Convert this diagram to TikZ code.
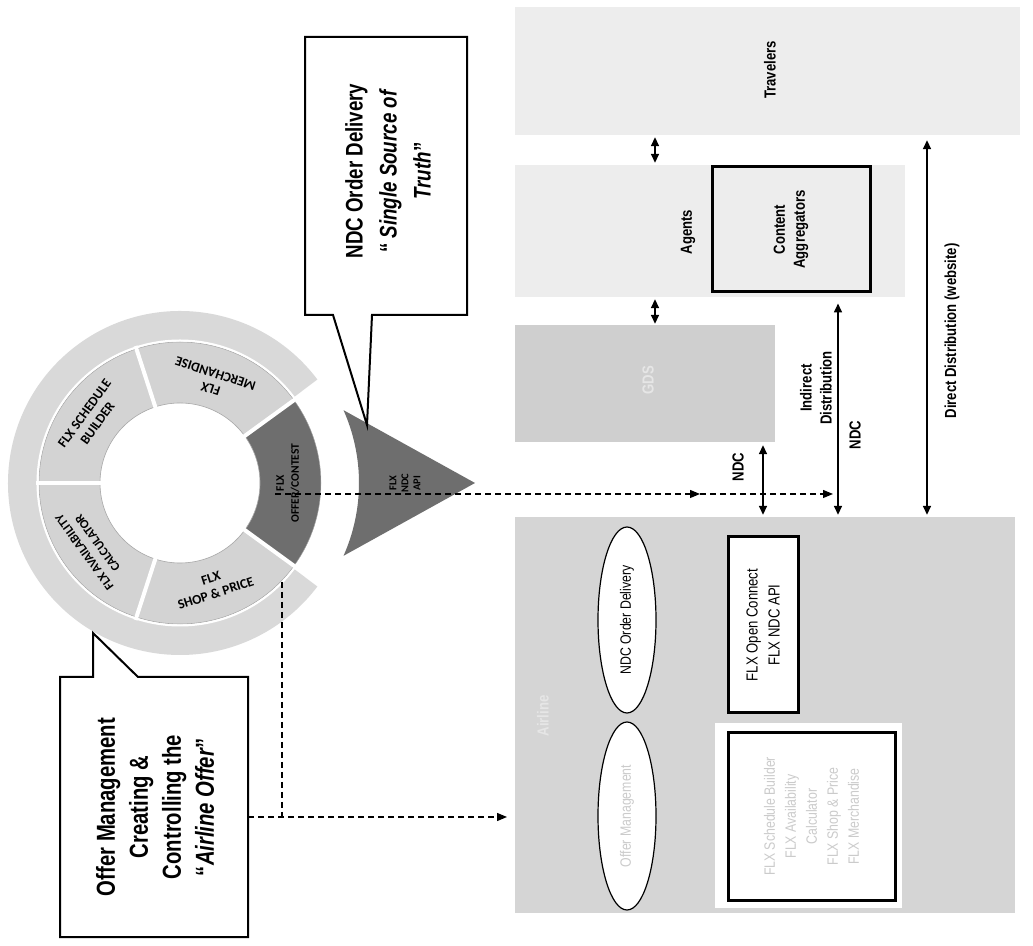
\documentclass[tikz,border=0pt]{standalone}
\usepackage{fontspec}
\setmainfont{Liberation Sans}
\newfontfamily\narrowfont[FakeStretch=0.82]{Liberation Sans}
\newfontfamily\calloutfont[FakeStretch=0.78]{Liberation Sans}
\newfontfamily\wheelfont{Carlito}
\usetikzlibrary{arrows.meta,shapes.geometric,calc}

\definecolor{ringgrey}{HTML}{D9D9D9}
\definecolor{seggrey}{HTML}{D3D3D3}
\definecolor{segline}{HTML}{A9A9A9}
\definecolor{darkseg}{HTML}{6E6E6E}
\definecolor{panellight}{HTML}{EDEDED}
\definecolor{paneldark}{HTML}{CFCFCF}
\definecolor{panelmid}{HTML}{D5D5D5}
\definecolor{fainttext}{HTML}{CBCBCB}
\definecolor{ghosttext}{HTML}{E6E6E6}

\begin{document}
\begin{tikzpicture}[x=1pt,y=1pt,
  panel/.style={draw=none, rectangle, inner sep=0pt},
  thickbox/.style={draw=black, line width=3pt, rectangle, inner sep=0pt},
  lbl/.style={font=\narrowfont\bfseries\fontsize{16}{20}\selectfont, rotate=90, align=center, inner sep=0pt},
  plain/.style={font=\narrowfont\fontsize{16}{22}\selectfont, rotate=90, align=center, inner sep=0pt},
  callout/.style={draw=black, line width=2pt, fill=white, line join=miter},
  calltext/.style={font=\calloutfont\bfseries\fontsize{26}{33}\selectfont, rotate=90, align=center, inner sep=0pt},
  segtext/.style={font=\wheelfont\bfseries\fontsize{13.5}{16}\selectfont, align=center, inner sep=0pt},
  dbl/.style={line width=1.6pt, {Triangle[length=9pt,width=8pt]}-{Triangle[length=9pt,width=8pt]}},
  flow/.style={line width=1.2pt, dash pattern=on 6pt off 4pt, -{Triangle[length=10pt,width=8pt]}},
  flowline/.style={line width=1.2pt, dash pattern=on 6pt off 4pt},
]
\useasboundingbox (0,0) rectangle (1033,945);
\fill[white] (0,0) rectangle (1033,945);

% ---------- channel panels ----------
\node[panel, fill=panellight, minimum width=505, minimum height=128] (trav) at (767.5,874) {};
\node[panel, fill=panellight, minimum width=390, minimum height=132] (agents) at (710,714) {};
\node[panel, fill=paneldark, minimum width=260, minimum height=117] (gds) at (645,561.5) {};
\node[panel, fill=panelmid, minimum width=500, minimum height=396] (airline) at (765,230) {};

\node[lbl] (travlbl) at (770,875) {Travelers};
\node[lbl] (agentslbl) at (688,713) {Agents};
\node[thickbox, fill=panellight, minimum width=158, minimum height=125] (aggr) at (791,715.5) {};
\node[lbl] (aggrlbl) at (791,715.5) {Content\\Aggregators};
\node[lbl, text=ghosttext] (gdslbl) at (648,565) {GDS};
\node[lbl, text=ghosttext] (airlinelbl) at (543,229) {Airline};

% ---------- airline side ----------
\node[ellipse, draw=black, line width=1.2pt, fill=white, rotate=90,
      minimum width=186, minimum height=58, inner sep=0pt,
      font=\narrowfont\fontsize{15}{18}\selectfont] (orderell) at (627,325) {NDC Order Delivery};
\node[ellipse, draw=black, line width=1.2pt, fill=white, rotate=90,
      minimum width=188, minimum height=58, inner sep=0pt, text=fainttext,
      font=\narrowfont\fontsize{15}{18}\selectfont] (offerell) at (627,129) {Offer Management};

\node[thickbox, fill=white, rotate=90, minimum width=176, minimum height=70, align=center,
      font=\narrowfont\fontsize{16}{22}\selectfont] (openconn) at (763,320) {FLX Open Connect\\FLX NDC API};

\node[panel, fill=white, minimum width=187, minimum height=185] (suiteback) at (808.5,129.5) {};
\node[thickbox, fill=white, minimum width=167, minimum height=167] (suite) at (811.5,128.5) {};
\node[plain, text=fainttext, font=\narrowfont\fontsize{15}{21}\selectfont] (suitelbl) at (811.5,128.5)
  {FLX Schedule Builder\\FLX Availability\\Calculator\\FLX Shop \& Price\\FLX Merchandise};

% ---------- channel connectors ----------
\coordinate (ax) at (655,0);
\coordinate (nx) at (763,0);
\coordinate (ix) at (838,0);
\coordinate (dx) at (927,0);
\draw[dbl, shorten <=2pt, shorten >=2pt] (trav.south -| ax) -- (agents.north -| ax);
\draw[dbl, shorten <=2pt, shorten >=1pt] (agents.south -| ax) -- (gds.north -| ax);
\draw[dbl, shorten <=3pt, shorten >=2pt] (gds.south -| nx) -- (airline.north -| nx);
\draw[dbl, shorten <=2pt, shorten >=10pt] (airline.north -| ix) -- (aggr.south -| ix);
\draw[dbl, shorten <=2pt, shorten >=5pt] (airline.north -| dx) -- (trav.south -| dx);

\node[lbl] (ndclblA) at (738,478) {NDC};
\node[lbl] (indirlbl) at (816,557) {Indirect\\Distribution};
\node[lbl] (ndclblB) at (855,510) {NDC};
\node[lbl] (directlbl) at (952,614) {Direct Distribution (website)};

% ---------- product wheel ----------
\coordinate (wc) at (180,462);
\begin{scope}[shift={(wc)}]
  \fill[ringgrey] (37:172) arc[start angle=37,end angle=323,radius=172]
    -- (323:143) arc[start angle=323,end angle=37,radius=143] -- cycle;
  \foreach \a/\b/\c in {36/108/seggrey,108/180/seggrey,180/252/seggrey,252/324/seggrey,-36/36/darkseg}{
    \filldraw[fill=\c, draw=segline, line width=0.6pt]
      (\a:141) arc[start angle=\a,end angle=\b,radius=141]
      -- (\b:80) arc[start angle=\b,end angle=\a,radius=80] -- cycle;
  }
  \foreach \a in {36,108,180,252,324}{
    \draw[white, line width=4pt] (\a:77) -- (\a:144);
  }
  \draw[white, line width=2pt] (0,0) circle[radius=142.5];
  \node[segtext, rotate=54] (schedlbl) at (144:110) {FLX SCHEDULE\\BUILDER};
  \node[segtext, rotate=162] (merchlbl) at (72:107) {FLX\\MERCHANDISE};
  \node[segtext, rotate=90, font=\wheelfont\bfseries\fontsize{11.5}{15}\selectfont] (offerlbl) at (0:108) {FLX\\OFFER/CONTEST};
  \node[segtext, rotate=18] (shoplbl) at (-72:108) {FLX\\SHOP \& PRICE};
  \node[segtext, rotate=126, font=\wheelfont\bfseries\fontsize{12.5}{16}\selectfont] (availlbl) at (216:110) {FLX AVAILABILITY\\CALCULATOR};
\end{scope}

% NDC API pointer
\coordinate (apex) at (475,462);
\fill[darkseg] (apex) -- ($(wc)+(24:179)$) arc[start angle=24,end angle=-24,radius=179] -- cycle;
\node[rotate=90, align=center, inner sep=0pt, font=\wheelfont\bfseries\fontsize{10.5}{12}\selectfont] (apilbl) at (405,462) {FLX\\NDC\\API};

% ---------- dashed flows ----------
\coordinate (segout) at (275,451);
\coordinate (flowmid) at (700,451);
\coordinate (flowend) at (833,451);
\draw[flow] (segout) -- (flowmid);
\draw[flow] (flowmid) -- (flowend);

\coordinate (shopout) at (282,363);
\coordinate (flowcorner) at (282,128);
\coordinate (offerin) at (507,128);
\draw[flowline] (shopout) -- (flowcorner);

% ---------- callouts ----------
\draw[callout] (60,268) -- (93,268) -- (93,312) -- (138,268) -- (248,268) -- (248,8) -- (60,8) -- cycle;
\node[calltext] (offerbox) at (155,138) {Offer Management\\Creating \&\\Controlling the\\“\textit{Airline Offer}”};
\coordinate (offerboxout) at (248,128);
\draw[flow] (offerboxout) -- (offerin);

\draw[callout] (305,908) -- (467,908) -- (467,630) -- (372,630) -- (367,520) -- (333,630) -- (305,630) -- cycle;
\node[calltext, font=\calloutfont\bfseries\fontsize{24}{34}\selectfont] (ndcbox) at (388,774) {NDC Order Delivery\\“ \textit{Single Source of}\\\textit{Truth}”};
\end{tikzpicture}
\end{document}
